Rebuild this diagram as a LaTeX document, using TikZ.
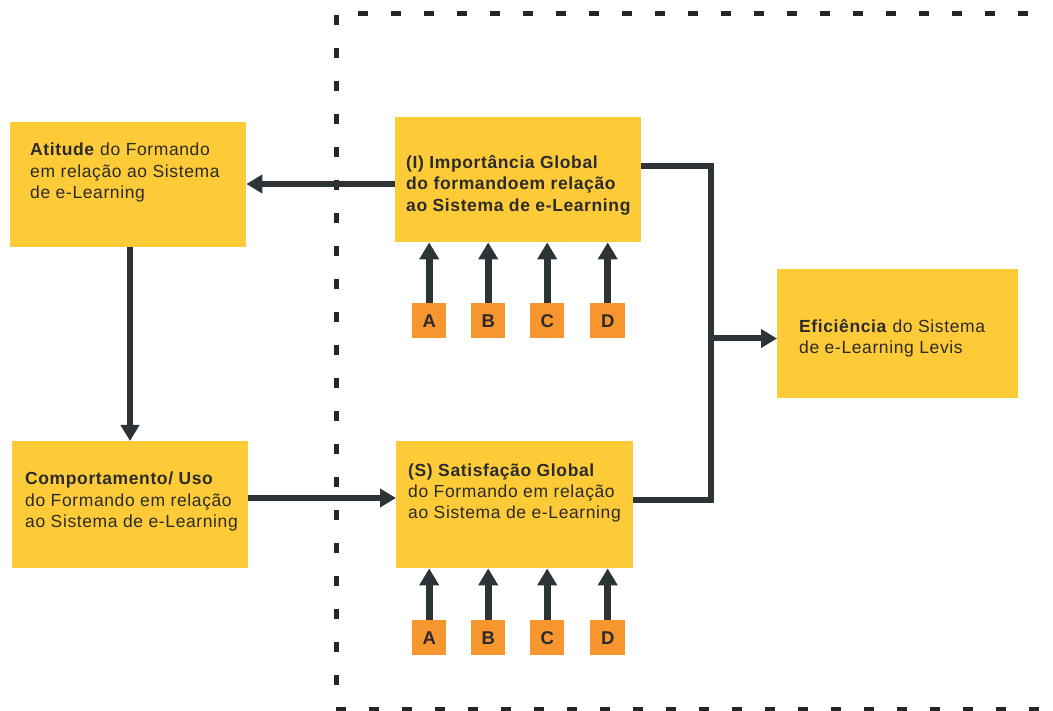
\documentclass[tikz,border=0pt]{standalone}
\usepackage{fontspec}
\setmainfont{Liberation Sans}[LetterSpace=3.5]
\usetikzlibrary{arrows.meta}
\definecolor{boxy}{HTML}{FECB38}
\definecolor{boxo}{HTML}{F7952F}
\definecolor{ink}{HTML}{2C3437}
\definecolor{txtc}{HTML}{2B2B2B}
\definecolor{dashc}{HTML}{2A2522}
\begin{document}
\begin{tikzpicture}[x=1pt,y=-1pt,
  ybox/.style={fill=boxy, draw=none, inner sep=0pt, anchor=north west},
  obox/.style={fill=boxo, draw=none, inner sep=0pt, anchor=north west,
    minimum width=34pt, minimum height=35pt, text=txtc,
    font=\fontsize{18.5}{20}\selectfont\bfseries},
  ln/.style={anchor=base west, inner sep=0pt, text=txtc,
    font=\fontsize{17.5}{21.5}\selectfont},
  bln/.style={anchor=base west, inner sep=0pt, text=txtc,
    font=\fontsize{17.5}{21.5}\selectfont\bfseries},
  conn/.style={draw=ink, line width=6pt},
  arr/.style={draw=ink, line width=6pt, -{Triangle[length=16pt,width=18pt]}},
  sarr/.style={draw=ink, line width=7pt, -{Triangle[length=17pt,width=19pt]}},
  vdash/.style={draw=dashc, line width=5pt, dash pattern=on 10pt off 23pt},
]
\useasboundingbox (0,0) rectangle (1053,711);

% dashed frame
\draw[vdash] (336.5,15) -- (336.5,690);
\draw[vdash] (358,13.5) -- (1040,13.5);
\draw[vdash] (336,709.5) -- (1053,709.5);

% main boxes
\node[ybox, minimum width=236pt, minimum height=125pt] (att) at (10,122) {};
\node[ybox, minimum width=246pt, minimum height=125pt] (imp) at (395,117) {};
\node[ybox, minimum width=241pt, minimum height=129pt] (efi) at (777,269) {};
\node[ybox, minimum width=236pt, minimum height=127pt] (cmp) at (12,441) {};
\node[ybox, minimum width=237pt, minimum height=127pt] (sat) at (396,441) {};

% small boxes
\node[obox] (ia) at (412,303) {A};
\node[obox] (ib) at (471,303) {B};
\node[obox] (ic) at (530,303) {C};
\node[obox, minimum width=35pt] (id) at (590,303) {D};
\node[obox] (sa) at (412,620) {A};
\node[obox] (sb) at (471,620) {B};
\node[obox] (sc) at (530,620) {C};
\node[obox, minimum width=35pt] (sd) at (590,620) {D};

% texts
\node[ln] (at1) at (30,156) {\textbf{Atitude} do Formando};
\node[ln] (at2) at (30,178) {em relação ao Sistema};
\node[ln] (at3) at (30,199) {de e-Learning};

\node[bln] (im1) at (406,169) {(I) Importância Global};
\node[bln] (im2) at (406,190) {do formandoem relação};
\node[bln] (im3) at (406,212) {ao Sistema de e-Learning};

\node[ln] (ef1) at (799,333) {\textbf{Eficiência} do Sistema};
\node[ln] (ef2) at (799,354) {de e-Learning Levis};

\node[ln] (cm1) at (25,484) {\textbf{Comportamento/ Uso}};
\node[ln] (cm2) at (25,506) {do Formando em relação};
\node[ln] (cm3) at (25,527) {ao Sistema de e-Learning};

\node[ln] (sa1) at (408,476) {\textbf{(S) Satisfação Global}};
\node[ln] (sa2) at (408,497) {do Formando em relação};
\node[ln] (sa3) at (408,518) {ao Sistema de e-Learning};

% helper coordinates
\coordinate (yAtt) at (0,184);
\coordinate (yCmp) at (0,498);
\coordinate (yImp) at (0,166);
\coordinate (ySat) at (0,500);
\coordinate (yEfi) at (0,338.5);
\coordinate (xDown) at (130,0);
\coordinate (jn) at (710.5,338.5);

% connectors
\draw[arr] (imp.west |- yAtt) -- (att.east |- yAtt);
\draw[arr] (xDown |- att.south) -- (xDown |- cmp.north);
\draw[arr] (cmp.east |- yCmp) -- (sat.west |- yCmp);
\draw[conn] (imp.east |- yImp) -| (jn) |- (sat.east |- ySat);
\draw[arr] (jn) -- (efi.west |- yEfi);

\foreach \n in {ia,ib,ic,id}{\draw[sarr] (\n.north) -- (\n.north |- imp.south);}
\foreach \n in {sa,sb,sc,sd}{\draw[sarr] (\n.north) -- (\n.north |- sat.south);}
\end{tikzpicture}
\end{document}
